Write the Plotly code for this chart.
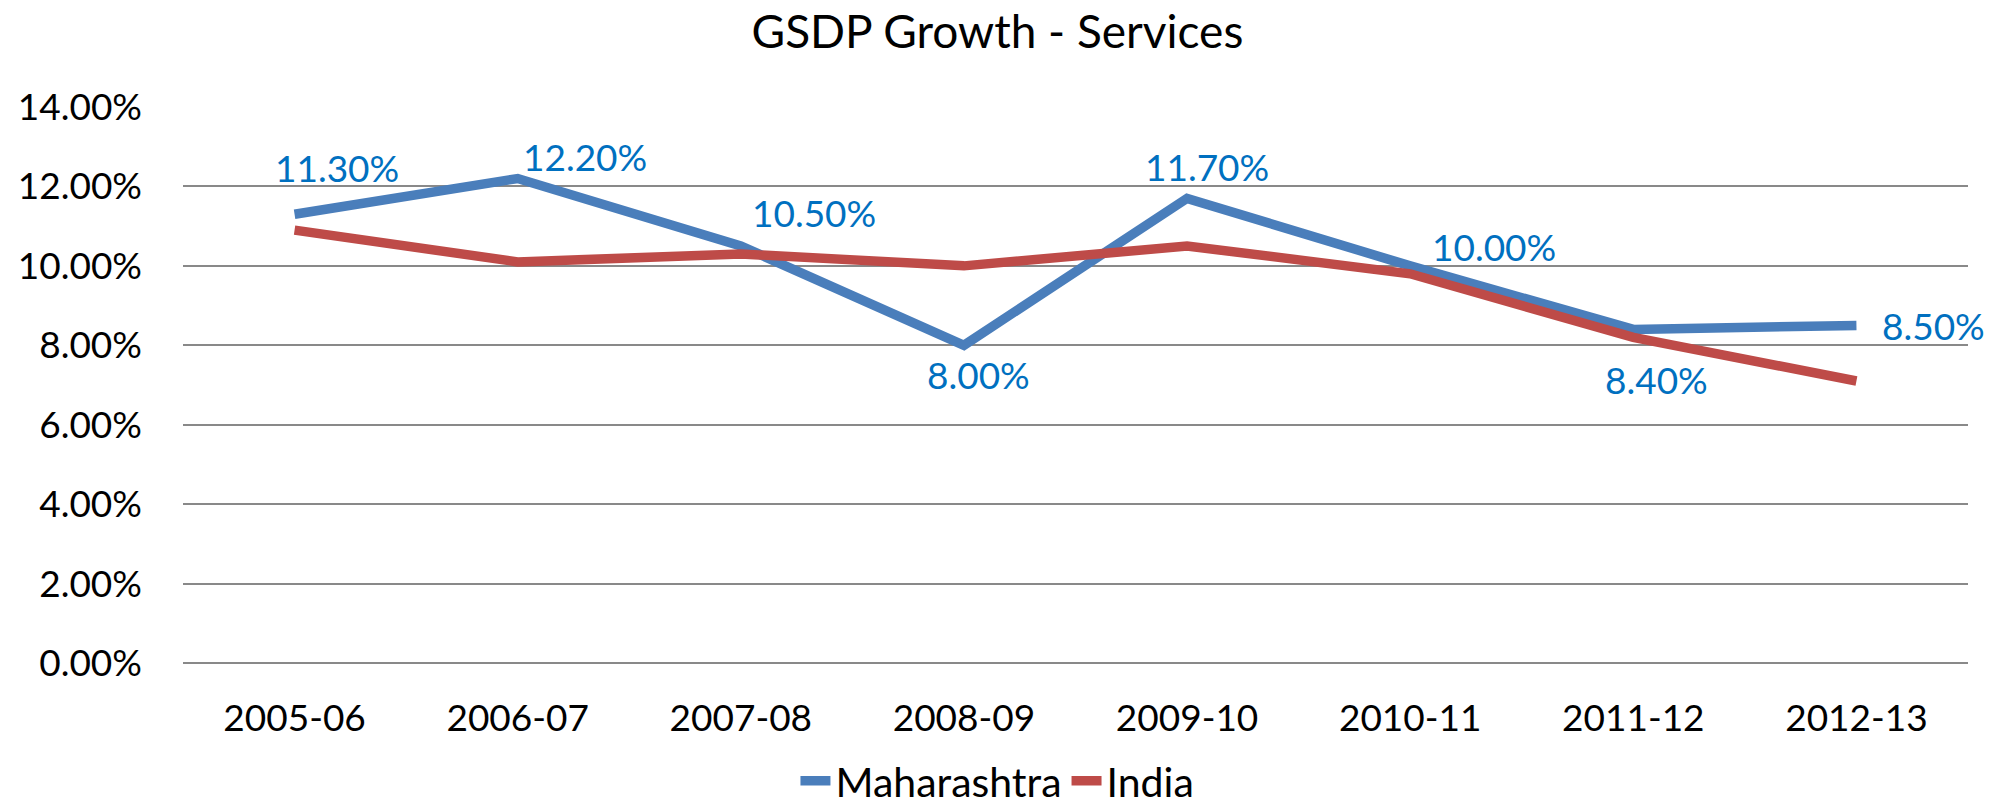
import plotly.graph_objects as go

# GSDP growth in services, Maharashtra vs India (percent)
years = ["2005-06", "2006-07", "2007-08", "2008-09", "2009-10", "2010-11", "2011-12", "2012-13"]
maharashtra = [11.3, 12.2, 10.5, 8.0, 11.7, 10.0, 8.4, 8.5]
india = [10.9, 10.1, 10.3, 10.0, 10.5, 9.8, 8.2, 7.1]

# pixel offsets of each Maharashtra value label from its point
label_dx = [42, 67, 73, 15, 20, 84, 23, 77]
label_dy = [47, 22, 34, -29, 32, 19, -50, 0]

FONT = "Lato"
BLUE = "#4A7EBB"
RED = "#BE4B48"
LABEL_BLUE = "#0070C0"
GRID = "#898989"

fig = go.Figure()
fig.add_trace(go.Scatter(
    x=years, y=maharashtra, name="Maharashtra", mode="lines",
    line=dict(color=BLUE, width=9.5),
))
fig.add_trace(go.Scatter(
    x=years, y=india, name="India", mode="lines",
    line=dict(color=RED, width=9.5),
))

for x, v, dx, dy in zip(years, maharashtra, label_dx, label_dy):
    fig.add_annotation(
        x=x, y=v, text=f"{v:.2f}%", showarrow=False,
        xshift=dx, yshift=dy,
        font=dict(family=FONT, size=37, color=LABEL_BLUE),
    )

fig.update_layout(
    width=2011, height=808,
    margin=dict(l=183, r=43, t=107, b=145, autoexpand=False),
    paper_bgcolor="white", plot_bgcolor="white",
    font=dict(family=FONT, size=37, color="black"),
    title=dict(
        text="GSDP Growth - Services", x=0.496, xref="container", xanchor="center",
        y=1 - 32 / 808, yref="container", yanchor="middle",
        font=dict(family=FONT, size=46, color="black"),
    ),
    showlegend=True,
    legend=dict(
        orientation="h", x=0.496, xref="container", xanchor="center",
        y=27 / 808, yref="container", yanchor="middle",
        font=dict(family=FONT, size=41, color="black"),
        tracegroupgap=0,
    ),
)

fig.update_xaxes(
    type="category", range=[-0.5, 7.5],
    showgrid=False, showline=False, ticks="",
    ticklabelstandoff=30,
    tickfont=dict(family=FONT, size=37, color="black"),
)
fig.update_yaxes(
    range=[0, 14], dtick=2, tick0=0,
    tickformat=".2f", ticksuffix="%",
    showgrid=True, gridcolor=GRID, gridwidth=2,
    zeroline=True, zerolinecolor=GRID, zerolinewidth=2,
    showline=False, ticks="",
    ticklabelstandoff=40,
    tickfont=dict(family=FONT, size=37, color="black"),
)

fig.write_html("out.html")
